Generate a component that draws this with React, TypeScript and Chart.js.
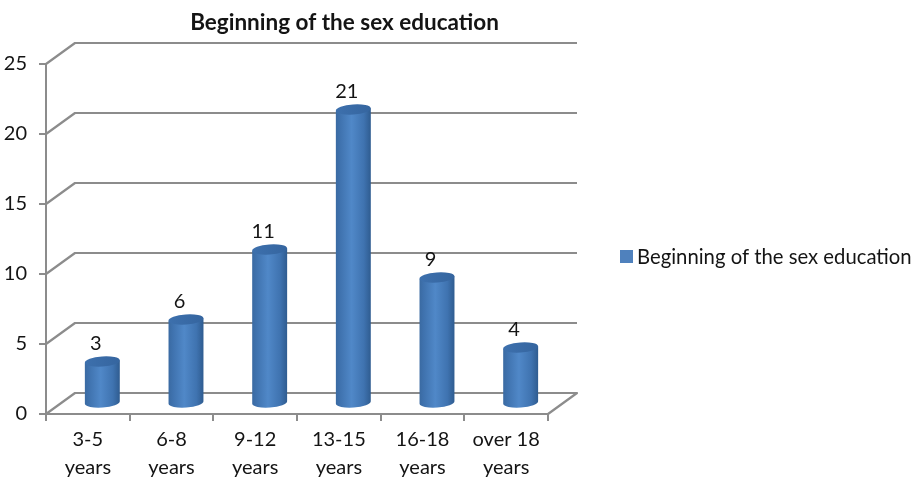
import React, { useEffect, useRef } from "react";
import { Chart, registerables } from "chart.js";

Chart.register(...registerables);

const categories: string[][] = [
  ["3-5", "years"],
  ["6-8", "years"],
  ["9-12", "years"],
  ["13-15", "years"],
  ["16-18", "years"],
  ["over 18", "years"],
];
const seriesName = "Beginning of the sex education";
const values = [3, 6, 11, 21, 9, 4];

const GREY = "#8c8c8c";
const INK = "#141414";
const FONT = "Lato, Carlito, sans-serif";
const DEPTH_X = 29;
const DEPTH_Y = 21;

const walls = {
  id: "walls",
  beforeDatasetsDraw(chart: any) {
    const { ctx, chartArea, scales } = chart;
    const y = scales.y;
    ctx.save();
    ctx.strokeStyle = GREY;
    ctx.lineWidth = 2.2;
    ctx.lineJoin = "round";
    for (const t of y.ticks) {
      const py = y.getPixelForValue(t.value);
      ctx.beginPath();
      ctx.moveTo(chartArea.left, py);
      ctx.lineTo(chartArea.left + DEPTH_X, py - DEPTH_Y);
      ctx.lineTo(chartArea.right + DEPTH_X, py - DEPTH_Y);
      if (t.value === 0) ctx.lineTo(chartArea.right, py);
      ctx.stroke();
    }
    ctx.restore();
  },
};

const cylinders = {
  id: "cylinders",
  beforeDatasetDraw(chart: any, args: any) {
    const { ctx } = chart;
    const meta = args.meta;
    const rot = (-4 * Math.PI) / 180;
    ctx.save();
    meta.data.forEach((bar: any, i: number) => {
      const p = bar.getProps(["x", "y", "base", "width"], true);
      const cx = p.x + DEPTH_X / 2;
      const topY = p.y - DEPTH_Y / 2;
      const baseY = p.base - DEPTH_Y / 2;
      const rx = p.width / 2;
      const ry = 5;
      const dy = rx * Math.sin(rot);
      const g = ctx.createLinearGradient(cx - rx, 0, cx + rx, 0);
      g.addColorStop(0, "#3a6aa2");
      g.addColorStop(0.12, "#3f72ae");
      g.addColorStop(0.45, "#5088c8");
      g.addColorStop(0.8, "#3f73b0");
      g.addColorStop(1, "#2f5c90");
      ctx.fillStyle = g;
      ctx.beginPath();
      ctx.moveTo(cx - rx, topY - dy);
      ctx.ellipse(cx, baseY, rx, ry, rot, Math.PI, 0, true);
      ctx.lineTo(cx + rx, topY + dy);
      ctx.closePath();
      ctx.fill();
      const t = ctx.createLinearGradient(cx - rx, 0, cx + rx, 0);
      t.addColorStop(0, "#3d70ad");
      t.addColorStop(1, "#35659f");
      ctx.fillStyle = t;
      ctx.beginPath();
      ctx.ellipse(cx, topY, rx, ry, rot, 0, Math.PI * 2);
      ctx.fill();
      ctx.fillStyle = INK;
      ctx.font = `20px ${FONT}`;
      ctx.textAlign = "center";
      ctx.textBaseline = "middle";
      ctx.fillText(String(values[i]), p.x + 8, p.y - 28.5);
    });
    ctx.restore();
    return false;
  },
};

const sideLegend = {
  id: "sideLegend",
  afterDraw(chart: any) {
    const { ctx } = chart;
    const ds = chart.data.datasets[0];
    ctx.save();
    ctx.fillStyle = ds.backgroundColor;
    ctx.fillRect(620, 250, 13, 13);
    ctx.fillStyle = INK;
    ctx.font = `20.3px ${FONT}`;
    ctx.textAlign = "left";
    ctx.textBaseline = "middle";
    ctx.fillText(ds.label, 637, 257);
    ctx.restore();
  },
};

const placeTitle = {
  id: "placeTitle",
  afterLayout(chart: any) {
    const tdx = 344.5 - (chart.titleBlock.left + chart.titleBlock.right) / 2;
    chart.titleBlock.left += tdx;
    chart.titleBlock.right += tdx;
  },
};

export default function App() {
  const ref = useRef<HTMLCanvasElement>(null);
  useEffect(() => {
    const chart = new Chart(ref.current!, {
      type: "bar",
      data: {
        labels: categories,
        datasets: [
          {
            label: seriesName,
            data: values,
            backgroundColor: "#4F81BD",
            barPercentage: 0.418,
            categoryPercentage: 1,
          },
        ],
      },
      plugins: [walls, cylinders, sideLegend, placeTitle],
      options: {
        responsive: false,
        animation: false,
        layout: { padding: { right: 371, bottom: 0, left: 0, top: 0 } },
        plugins: {
          tooltip: { enabled: false },
          legend: { display: false },
          title: {
            display: true,
            text: seriesName,
            color: INK,
            font: { family: FONT, size: 22.5, weight: "bold", lineHeight: 1.2 },
            padding: { top: 9, bottom: 28 },
          },
        },
        scales: {
          x: {
            afterFit(s: any) {
              s.height = 65;
            },
            grid: {
              drawOnChartArea: false,
              color: GREY,
              lineWidth: 2,
              tickLength: 7,
            },
            border: { color: GREY, width: 2 },
            ticks: {
              color: INK,
              padding: 5,
              maxRotation: 0,
              font: { family: FONT, size: 20, lineHeight: 1.4 },
            },
          },
          y: {
            min: 0,
            max: 25,
            afterFit(s: any) {
              s.width = 46;
            },
            grid: {
              drawOnChartArea: false,
              color: GREY,
              lineWidth: 2,
              tickLength: 7,
            },
            border: { color: GREY, width: 2 },
            ticks: {
              color: INK,
              stepSize: 5,
              padding: 12,
              font: { family: FONT, size: 20 },
            },
          },
        },
      },
    } as any);
    return () => chart.destroy();
  }, []);
  return (
    <canvas
      ref={ref}
      width={919}
      height={479}
      style={{ position: "absolute", left: 0, top: 0, width: 919, height: 479 }}
    />
  );
}
